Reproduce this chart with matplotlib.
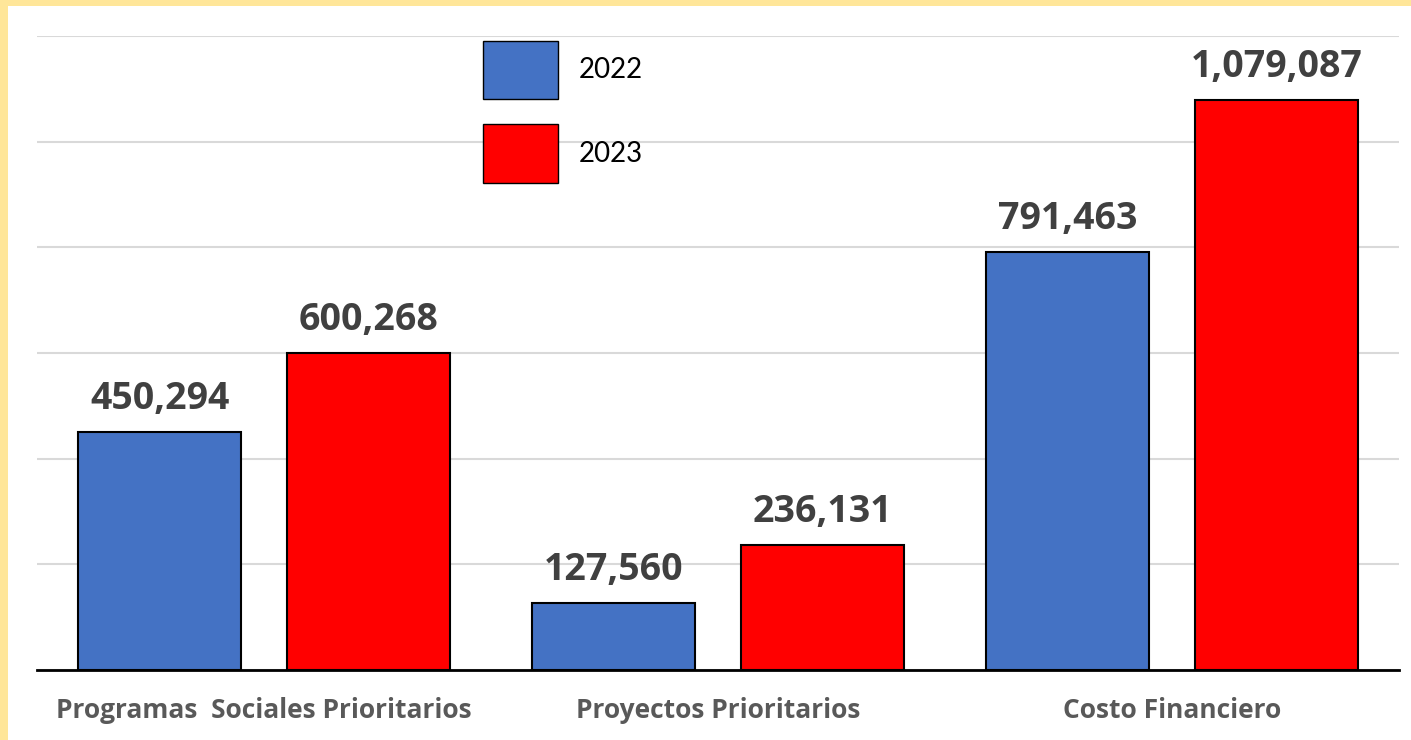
import matplotlib
matplotlib.use("Agg")
import matplotlib.pyplot as plt
from matplotlib.patches import Patch
import numpy as np

categories = ["Programas  Sociales Prioritarios", "Proyectos Prioritarios", "Costo Financiero"]
series_names = ["2022", "2023"]
values_2022 = [450294, 127560, 791463]
values_2023 = [600268, 236131, 1079087]
colors = ["#4472C4", "#FF0000"]

plt.rcParams['font.family'] = ['Lato', 'DejaVu Sans']
BOLD = ['Open Sans', 'DejaVu Sans']

W, H = 1411, 740
fig = plt.figure(figsize=(W/100, H/100), dpi=100)
fig.patch.set_facecolor("#FFE699")
# white panel (leave yellow border on top and left)
fig.patches.append(plt.Rectangle((8/W, 0), 1, 1 - 6/H, transform=fig.transFigure,
                                 facecolor="white", edgecolor="none", zorder=-10))

ax = fig.add_axes([37/W, 1 - 670/H, (1399-37)/W, (670-36)/H])
ax.set_facecolor("none")
x = np.arange(len(categories))
bw = 0.359
off = 0.23
for i, (vals, name) in enumerate(zip([values_2022, values_2023], series_names)):
    pos = x + (-off if i == 0 else off)
    ax.bar(pos, vals, width=bw, color=colors[i], edgecolor="black", linewidth=1.5, zorder=3, label=name)
    for p, v in zip(pos, vals):
        ax.annotate(f"{v:,}", (p, v), xytext=(0, 10), textcoords="offset points",
                    ha="center", va="bottom", fontsize=27, fontweight="bold",
                    color="#404040", family=BOLD)

ax.set_xlim(-0.5, 2.5)
ax.set_ylim(0, 1200000)
ax.set_yticks(np.arange(0, 1200001, 200000))
ax.yaxis.grid(True, color="#D9D9D9", linewidth=1.5, zorder=0)
ax.tick_params(axis="y", left=False, labelleft=False)
ax.tick_params(axis="x", bottom=False, pad=16)
ax.set_xticks(x)
ax.set_xticklabels(categories, fontsize=19, fontweight="bold", color="#595959", family=BOLD)
for s in ["top", "right", "left"]:
    ax.spines[s].set_visible(False)
ax.spines["bottom"].set_color("black")
ax.spines["bottom"].set_linewidth(2)
ax.spines["bottom"].set_zorder(4)

handles = [Patch(facecolor=c, edgecolor="black", linewidth=1) for c in colors]
ax.legend(handles, series_names, loc="upper left", bbox_to_anchor=(0.3275, 0.992),
          frameon=False, fontsize=20, handlelength=2.7, handleheight=2.84,
          labelspacing=0.91, handletextpad=0.76, borderaxespad=0, borderpad=0)

fig.savefig("out.png", dpi=100, facecolor=fig.get_facecolor())
